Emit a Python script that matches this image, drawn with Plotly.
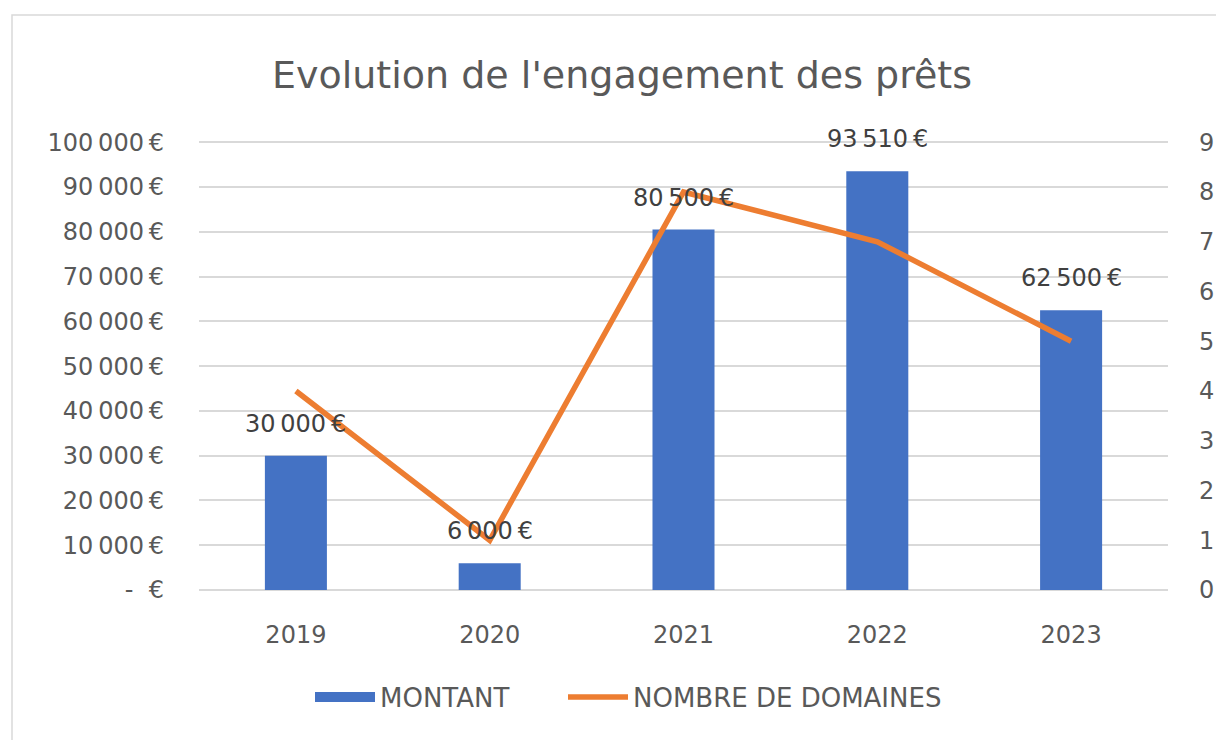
import plotly.graph_objects as go

years = ["2019", "2020", "2021", "2022", "2023"]
montant = [30000, 6000, 80500, 93510, 62500]
domaines = [4, 1, 8, 7, 5]

NB = "\u202f"  # narrow no-break space (French number format)
left_tickvals = [0, 10000, 20000, 30000, 40000, 50000, 60000, 70000, 80000, 90000, 100000]
left_ticktext = ["-  €"] + [f"{v:,}".replace(",", NB) + NB + "€" for v in left_tickvals[1:]]
right_tickvals = [0, 1, 2, 3, 4, 5, 6, 7, 8, 9]

FONT = "'DejaVu Sans', sans-serif"
GRAY = "#595959"
BLUE = "#4472C4"
ORANGE = "#ED7D31"

# small headroom so the 100 000 gridline is drawn (Plotly hides gridlines on the edge)
PAD = 1.005
y_max, y2_max = 100000 * PAD, 9 * PAD

fig = go.Figure()
fig.add_trace(go.Bar(
    x=years, y=montant, name="MONTANT", showlegend=False, legendgroup="m",
    marker=dict(color=BLUE, line=dict(width=0)),
    width=0.32,
))
fig.add_trace(go.Scatter(
    x=years, y=domaines, name="NOMBRE DE DOMAINES", yaxis="y2",
    mode="lines", line=dict(color=ORANGE, width=5.5),
    cliponaxis=False, legend="legend2",
))
# legend entry for the bars, drawn as a wide block like the original
fig.add_trace(go.Scatter(
    x=[years[0]], y=[None], name="MONTANT", legendgroup="m",
    mode="lines", line=dict(color=BLUE, width=13), hoverinfo="skip",
    legend="legend",
))

# page body margin of 8px: figure pixel = screen pixel - 8
W, H = 1216, 732
L, R, T, B = 191, 56, 132, 150
pw, ph = W - L - R, H - T - B

def px_x(x):
    return (x - L) / pw

def px_y(y):
    return (H - B - y) / ph

annotations = []
for i, v in enumerate(montant):
    annotations.append(dict(
        x=i, y=v, xref="x", yref="y",  # i = category index on the x axis
        text=f"{v:,}".replace(",", NB) + NB + "€",
        showarrow=False, yshift=32, yanchor="middle",
        font=dict(family=FONT, size=24, color="#404040"),
    ))

legend_common = dict(orientation="h", yanchor="middle", y=px_y(689),
                     font=dict(family=FONT, size=26, color=GRAY), itemwidth=60,
                     bgcolor="rgba(0,0,0,0)", xanchor="left")

fig.update_layout(
    width=W, height=H,
    margin=dict(l=L, r=R, t=T, b=B, autoexpand=False),
    paper_bgcolor="white", plot_bgcolor="white",
    font=dict(family=FONT, color=GRAY, size=24),
    title=dict(text="Evolution de l'engagement des prêts",
               font=dict(family=FONT, size=38, color=GRAY),
               x=px_x(614), xref="paper", xanchor="center",
               y=1 - 67 / H, yref="container", yanchor="middle"),
    bargap=0.68,
    xaxis=dict(type="category", range=[-0.5, len(years) - 0.5],
               showgrid=False, showline=False, ticks="",
               ticklabelstandoff=28, tickfont=dict(size=24, color=GRAY)),
    yaxis=dict(range=[0, y_max], tickvals=left_tickvals, ticktext=left_ticktext,
               showgrid=True, gridcolor="#D9D9D9", gridwidth=1.5,
               zeroline=True, zerolinecolor="#D9D9D9", zerolinewidth=1.5,
               showline=False, ticks="", ticklabelstandoff=34,
               tickfont=dict(size=24, color=GRAY)),
    yaxis2=dict(range=[0, y2_max], tickvals=right_tickvals, overlaying="y", side="right",
                showgrid=False, zeroline=False, showline=False, ticks="",
                ticklabelstandoff=30, tickfont=dict(size=24, color=GRAY)),
    legend=dict(legend_common, x=px_x(302)),
    legend2=dict(legend_common, x=px_x(555)),
    annotations=annotations,
    shapes=[dict(type="rect", xref="paper", yref="paper",
                 x0=px_x(4), x1=px_x(1240), y0=px_y(760), y1=px_y(7),
                 line=dict(color="#D9D9D9", width=1.5), layer="below")],
)

fig.write_html("out.html")
